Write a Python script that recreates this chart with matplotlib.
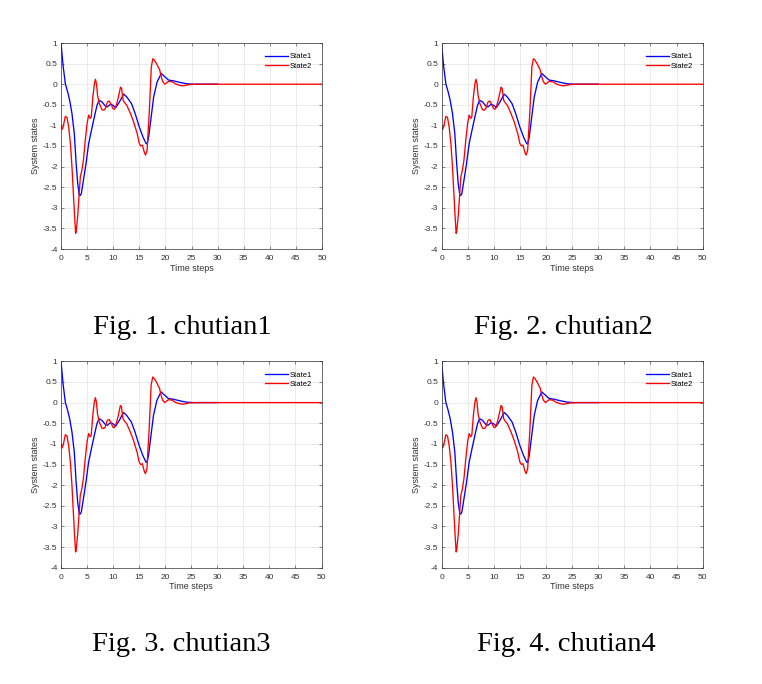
import matplotlib
matplotlib.use("Agg")
import matplotlib.pyplot as plt

# State1 (blue), stops at t = 30
t1 = [0, 0.4, 0.83, 1.3, 1.66, 2.1, 2.55, 2.9, 3.2, 3.5, 3.7, 3.9, 4.3, 4.8, 5.3,
      5.9, 6.4, 6.9, 7.3, 7.85, 8.5, 8.9, 9.45, 9.95, 10.5, 11.2, 12.0, 12.6, 13.5,
      14.2, 15.0, 15.7, 16.3, 16.5, 16.8, 17.2, 17.75, 18.4, 19.2, 19.8, 20.6, 21.6,
      22.9, 24.1, 25.4, 27, 30]
s1 = [1, 0.45, 0.01, -0.2, -0.39, -0.71, -1.2, -1.92, -2.41, -2.69, -2.7, -2.65,
      -2.33, -1.92, -1.44, -1.08, -0.79, -0.51, -0.39, -0.43, -0.53, -0.55, -0.49,
      -0.51, -0.57, -0.43, -0.24, -0.31, -0.47, -0.71, -1.04, -1.28, -1.44, -1.45,
      -1.28, -0.87, -0.31, 0.05, 0.26, 0.19, 0.10, 0.08, 0.04, 0.01, 0.0, 0.0, 0.0]

# State2 (red), runs to t = 50
t2 = [0, 0.2, 0.4, 0.83, 1.15, 1.47, 1.8, 2.1, 2.4, 2.6, 2.8, 2.9, 3.2, 3.45, 3.7,
      4.0, 4.3, 4.65, 5.0, 5.3, 5.6, 5.8, 6.1, 6.4, 6.6, 6.8, 7.0, 7.35, 7.85, 8.2,
      8.5, 8.9, 9.25, 9.6, 9.95, 10.2, 10.5, 10.85, 11.2, 11.4, 11.6, 11.9, 12.2,
      12.6, 13.3, 13.9, 14.6, 15.0, 15.3, 15.6, 16.0, 16.2, 16.5, 16.7, 16.9, 17.1,
      17.3, 17.6, 17.9, 18.3, 18.6, 18.9, 19.2, 19.5, 19.9, 20.2, 20.6, 21.3, 21.9,
      22.5, 23.2, 23.8, 24.5, 26, 30, 40, 50]
s2 = [-1.0, -1.1, -1.04, -0.78, -0.81, -1.04, -1.44, -2.0, -2.73, -3.2, -3.62, -3.58,
      -3.2, -2.73, -2.25, -2.09, -1.84, -1.36, -0.95, -0.75, -0.83, -0.79, -0.31,
      0.01, 0.12, 0.01, -0.27, -0.47, -0.62, -0.63, -0.59, -0.43, -0.41, -0.49,
      -0.59, -0.61, -0.55, -0.39, -0.19, -0.07, -0.1, -0.39, -0.45, -0.51, -0.71,
      -0.91, -1.2, -1.44, -1.5, -1.48, -1.67, -1.72, -1.6, -1.12, -0.71, -0.15,
      0.42, 0.62, 0.58, 0.5, 0.42, 0.35, 0.18, 0.06, 0.0, 0.03, 0.07, 0.06, 0.01,
      -0.02, -0.04, -0.03, -0.01, 0.0, 0.0, 0.0, 0.0]

xticks = list(range(0, 51, 5))
yticks = [-4, -3.5, -3, -2.5, -2, -1.5, -1, -0.5, 0, 0.5, 1]
ytick_labels = ['-4', '-3.5', '-3', '-2.5', '-2', '-1.5', '-1', '-0.5', '0', '0.5', '1']
captions = ['Fig. 1. chutian1', 'Fig. 2. chutian2', 'Fig. 3. chutian3', 'Fig. 4. chutian4']

W, H = 762, 684
plt.rcParams['font.family'] = ['Liberation Sans', 'DejaVu Sans']
fig = plt.figure(figsize=(W / 100, H / 100), dpi=100)

# axes boxes in pixels: left, top, right, bottom
boxes = [(61, 43, 322, 249), (441.5, 43, 702.7, 249),
         (61, 361.3, 321.5, 567.7), (441.5, 361.3, 702.7, 567.7)]
cap_pos = [(182.7, 334.3), (563.5, 334.3), (181, 651), (566, 651)]

for (l, t, r, b), cap, (cx, cy) in zip(boxes, captions, cap_pos):
    ax = fig.add_axes([l / W, 1 - b / H, (r - l) / W, (b - t) / H])
    ax.plot(t1, s1, color='#0000ff', lw=0.95, label='State1')
    ax.plot(t2, s2, color='#ff0000', lw=0.95, label='State2')
    ax.set_xlim(0, 50)
    ax.set_ylim(-4, 1)
    ax.set_xticks(xticks)
    ax.set_yticks(yticks)
    ax.set_yticklabels(ytick_labels)
    ax.grid(True, color='#e3e3e3', lw=0.5)
    ax.set_axisbelow(True)
    ax.tick_params(direction='in', length=2, width=0.4, labelsize=6, colors='#333333',
                   top=True, right=True)
    ax.tick_params(axis='x', pad=4.5)
    ax.tick_params(axis='y', pad=2.5)
    for sp in ax.spines.values():
        sp.set_color('#333333')
        sp.set_linewidth(0.5)
    ax.set_xlabel('Time steps', fontsize=6.5, color='#333333', labelpad=1)
    ax.set_ylabel('System states', fontsize=6.5, color='#333333', labelpad=2)
    ax.legend(loc='upper right', frameon=False, fontsize=5.5, handlelength=3.0,
              handletextpad=0.2, borderaxespad=0.9, labelspacing=0.25)
    fig.text(cx / W, 1 - cy / H, cap, ha='center', va='baseline',
             fontsize=20.5, family='Liberation Serif')

fig.savefig('out.png', dpi=100)
